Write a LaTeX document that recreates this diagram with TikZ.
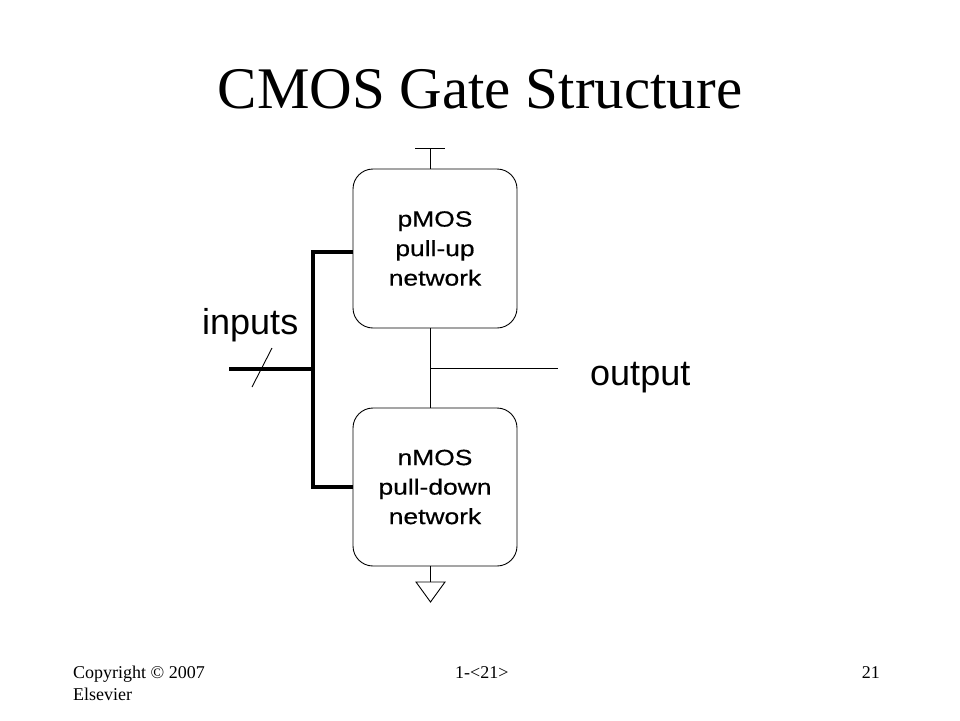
\documentclass[tikz,border=0pt]{standalone}
\usepackage{fontspec}
\setmainfont{Liberation Serif}
\newfontfamily\arialf{Liberation Sans}
\newfontfamily\arialw[FakeStretch=1.2,FakeBold=0.5]{Liberation Sans}
\begin{document}
\begin{tikzpicture}[x=1pt,y=-1pt,
  netbox/.style={draw, rounded corners=20pt, minimum width=164pt, minimum height=159pt,
    align=center, font=\arialw\fontsize{22}{29.5}\selectfont, inner sep=0pt, line width=0.9pt},
  wire/.style={line width=0.9pt},
  bus/.style={line width=3.4pt},
  lbl/.style={font=\arialf\fontsize{36}{40}\selectfont, inner sep=0pt},
  foot/.style={font=\fontsize{18}{20}\selectfont, inner sep=0pt}]
\useasboundingbox (0,0) rectangle (960,720);
\node[anchor=base, inner sep=0pt, font=\fontsize{59}{66}\selectfont] (title) at (480,108) {CMOS Gate Structure};
\node[netbox] (pup) at (435,248.5) {pMOS\\pull-up\\network};
\node[netbox, minimum height=158pt] (pdn) at (435,487) {nMOS\\pull-down\\network};
% supply
\coordinate (vdd) at (430,148);
\coordinate (vddL) at (415,148);
\coordinate (vddR) at (445,148);
\draw[wire] (vdd) -- (vdd |- pup.north);
\draw[wire] (vddL) -- (vddR);
% output
\coordinate (mid) at (430,368);
\coordinate (oend) at (558,368);
\draw[wire] (mid |- pup.south) -- (mid |- pdn.north);
\draw[wire] (mid) -- (oend);
\node[lbl, anchor=base west] (out) at (590,385) {output};
% ground
\coordinate (gnd) at (430,582);
\coordinate (gndL) at (416,582);
\coordinate (gndR) at (445,582);
\coordinate (gndT) at (430.5,602);
\draw[wire] (gnd |- pdn.south) -- (gnd);
\draw[wire, line join=miter] (gndL) -- (gndR) -- (gndT) -- cycle;
% inputs
\coordinate (busT) at (313,252);
\coordinate (busB) at (313,487);
\coordinate (busM) at (313,369);
\coordinate (inend) at (229,369);
\draw[bus, line join=miter] (busT -| pup.west) -- (busT) -- (busB) -- (busB -| pdn.west);
\draw[bus] (inend) -- (busM);
\coordinate (slA) at (252,387);
\coordinate (slB) at (272,348);
\draw[wire] (slA) -- (slB);
\node[lbl, anchor=base west] (inp) at (202,334) {inputs};
% footer
\node[foot, anchor=base west] (copy) at (73,678) {Copyright © 2007};
\node[foot, anchor=base west] (els) at (73,700) {Elsevier};
\node[foot, anchor=base west] (pg) at (455,678) {1-<21>};
\node[foot, anchor=base east] (num) at (880,678) {21};
\end{tikzpicture}
\end{document}
